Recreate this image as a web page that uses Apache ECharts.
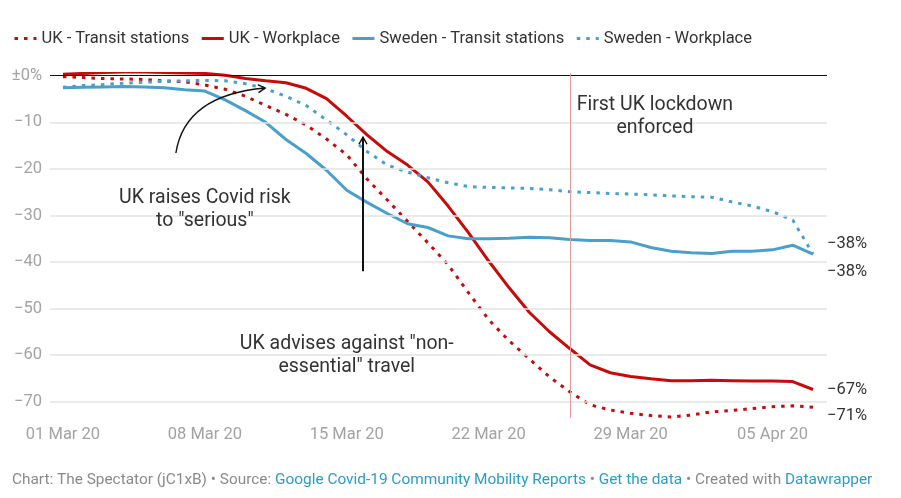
<!DOCTYPE html>
<html><head><meta charset="utf-8">
<script src="https://cdn.jsdelivr.net/npm/echarts@6/dist/echarts.min.js"></script>
<style>html,body{margin:0;padding:0;background:#fff}#c{width:901px;height:498px}</style>
</head><body><div id="c"></div>
<script>
// ---- data (x = days since 01 Mar 20) ----
const xTickDays = [0, 7, 14, 21, 28, 35];
const xTickLabels = ['01 Mar 20', '08 Mar 20', '15 Mar 20', '22 Mar 20', '29 Mar 20', '05 Apr 20'];
const yTicks = [0, -10, -20, -30, -40, -50, -60, -70];
const yTickLabels = ['±0%', '−10', '−20', '−30', '−40', '−50', '−60', '−70'];
const seriesNames = ['UK - Transit stations', 'UK - Workplace', 'Sweden - Transit stations', 'Sweden - Workplace'];

const ukTransit = [-0.2, -0.4, -0.6, -0.7, -0.8, -1.1, -1.3, -2.0, -2.9, -4.4, -6.4, -8.3, -10.6, -13.6, -17.0, -22.2, -26.7, -31.3, -35.9, -40.6, -46.6, -52.4, -56.9, -60.8, -64.7, -67.9, -70.7, -71.8, -72.5, -73.0, -73.3, -72.9, -72.2, -71.9, -71.5, -71.1, -70.9, -71.2];
const ukWorkplace = [0.3, 0.5, 0.7, 0.8, 0.8, 0.7, 0.6, 0.5, 0.1, -0.6, -1.1, -1.5, -2.7, -4.9, -8.7, -12.7, -16.3, -19.2, -22.8, -28.0, -33.7, -39.8, -45.5, -50.8, -55.0, -58.6, -62.1, -63.8, -64.6, -65.1, -65.5, -65.5, -65.4, -65.5, -65.6, -65.6, -65.7, -67.4];
const swedenTransit = [-2.6, -2.5, -2.4, -2.3, -2.4, -2.6, -3.0, -3.3, -5.2, -7.5, -10.0, -13.7, -16.7, -20.3, -24.6, -27.2, -29.6, -31.8, -32.6, -34.4, -35.0, -35.0, -34.9, -34.7, -34.8, -35.2, -35.4, -35.4, -35.7, -36.9, -37.7, -38.0, -38.2, -37.7, -37.7, -37.4, -36.4, -38.3];
const swedenWorkplace = [-2.5, -2.1, -1.9, -1.6, -1.4, -1.2, -1.1, -1.0, -1.1, -1.7, -2.8, -4.4, -6.4, -9.5, -12.7, -16.3, -19.2, -20.7, -21.9, -23.0, -23.8, -24.0, -24.1, -24.2, -24.5, -24.9, -25.1, -25.3, -25.4, -25.6, -25.8, -26.0, -26.1, -27.1, -28.0, -29.2, -31.0, -38.3];
const lockdownDay = 25;

const RED = '#c50b0b', BLUE = '#4b9fcb', FONT = 'Roboto';
const toPairs = arr => arr.map((v, i) => [i, v]);
const endFmt = p => '−' + Math.abs(Math.round(p.value[1])) + '%';

function lineSeries(name, data, color, dotted, labelDy) {
  return {
    name, type: 'line', data: toPairs(data), symbol: 'none', z: 3,
    lineStyle: dotted ? { color, width: 3, type: [3.5, 6] } : { color, width: 3 },
    itemStyle: { color },
    endLabel: { show: true, formatter: endFmt, distance: 14, offset: [0, labelDy], color: '#333', fontSize: 16.5, fontFamily: FONT }
  };
}

const chart = echarts.init(document.getElementById('c'));
chart.setOption({
  animation: false,
  textStyle: { fontFamily: FONT },
  legend: {
    left: 8, top: 25, itemWidth: 22, itemHeight: 14, itemGap: 11,
    itemStyle: { opacity: 0 },
    lineStyle: { width: 3 },
    textStyle: { color: '#333', fontSize: 16.5, fontFamily: FONT },
    data: seriesNames
  },
  grid: { left: 50, right: 74, top: 73.4, bottom: 80.1 },
  xAxis: {
    type: 'value', min: -0.64, max: 37.69,
    axisLine: { show: false }, axisTick: { show: false }, splitLine: { show: false },
    axisLabel: { customValues: xTickDays, formatter: v => xTickLabels[xTickDays.indexOf(v)] || '', color: '#a3a3a3', fontSize: 16.5, fontFamily: FONT, margin: 8 }
  },
  yAxis: {
    type: 'value', min: -73.5, max: 0.5,
    axisLine: { show: false }, axisTick: { show: false }, splitLine: { show: false },
    axisLabel: { customValues: yTicks, formatter: v => yTickLabels[yTicks.indexOf(v)] || '', color: '#a3a3a3', fontSize: 16.5, fontFamily: FONT, margin: 8 }
  },
  series: [
    {
      type: 'line', data: [], z: 1, silent: true,
      markLine: {
        silent: true, symbol: 'none', label: { show: false },
        data: yTicks.map(v => ({ yAxis: v, lineStyle: { color: v === 0 ? '#111' : '#e3e3e3', width: v === 0 ? 1.2 : 1.5, type: 'solid' } }))
          .concat([{ xAxis: lockdownDay, lineStyle: { color: '#e39a9a', width: 1, type: 'solid' } }])
      }
    },
    lineSeries(seriesNames[0], ukTransit, RED, true, 9),
    lineSeries(seriesNames[1], ukWorkplace, RED, false, 0),
    lineSeries(seriesNames[2], swedenTransit, BLUE, false, 18),
    lineSeries(seriesNames[3], swedenWorkplace, BLUE, true, -10)
  ]
});

// ---- annotations placed in data space ----
const px = (x, y) => chart.convertToPixel({ gridIndex: 0 }, [x, y]);
const annotations = [
  { text: 'UK raises Covid risk\nto "serious"', at: [7.0, -28.7] },
  { text: 'First UK lockdown\nenforced', at: [29.2, -8.8] },
  { text: 'UK advises against "non-\nessential" travel', at: [14.0, -60.2] }
];
function head(tip, from, len, w) {
  const dx = tip[0] - from[0], dy = tip[1] - from[1], L = Math.hypot(dx, dy);
  const ux = dx / L, uy = dy / L, a = Math.PI / 6;
  const r = s => [tip[0] - len * (ux * Math.cos(s * a) - uy * Math.sin(s * a)), tip[1] - len * (ux * Math.sin(s * a) + uy * Math.cos(s * a))];
  return { type: 'polyline', z: 10, shape: { points: [r(1), tip, r(-1)] }, style: { stroke: '#111', lineWidth: w, fill: null } };
}
const graphics = annotations.map(a => {
  const p = px(a.at[0], a.at[1]);
  return { type: 'text', z: 10, x: p[0], y: p[1], style: { text: a.text, fill: '#333', font: '19.5px Roboto', align: 'center', verticalAlign: 'middle', lineHeight: 23 } };
});
// curved arrow
const c0 = px(5.57, -16.6), cc = px(6.02, -4.15), c1 = px(9.97, -2.64);
graphics.push({ type: 'bezierCurve', z: 10, shape: { x1: c0[0], y1: c0[1], cpx1: cc[0], cpy1: cc[1], x2: c1[0], y2: c1[1] }, style: { stroke: '#111', lineWidth: 1.4, fill: null } });
graphics.push(head(c1, cc, 8, 1.4));
// straight arrow
const s0 = px(14.8, -42.0), s1 = px(14.8, -13.2);
graphics.push({ type: 'line', z: 10, shape: { x1: s0[0], y1: s0[1], x2: s1[0], y2: s1[1] }, style: { stroke: '#111', lineWidth: 2 } });
graphics.push(head(s1, s0, 8, 1.4));
// footer
graphics.push({
  type: 'text', left: 12, top: 473, z: 10,
  style: {
    text: '{g|Chart: The Spectator (jC1xB) • Source: }{b|Google Covid-19 Community Mobility Reports}{g| • }{b|Get the data}{g| • Created with }{b|Datawrapper}',
    rich: { g: { fill: '#8a8a8a', font: '15.4px Roboto' }, b: { fill: '#2d9bc6', font: '15.4px Roboto' } }
  }
});
chart.setOption({ graphic: graphics });
</script>
</body></html>
